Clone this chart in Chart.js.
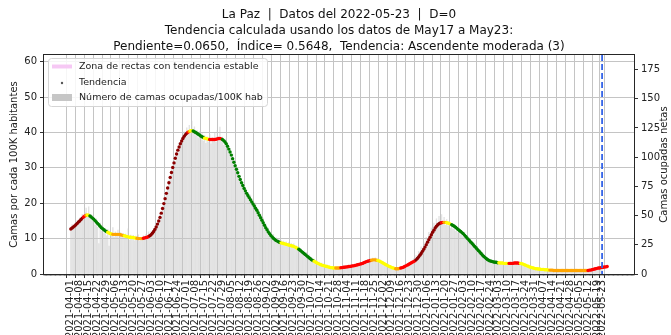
<!DOCTYPE html>
<html>
<head>
<meta charset="utf-8">
<script src="https://cdn.jsdelivr.net/npm/chart.js@4.4.0/dist/chart.umd.min.js"></script>
<style>
  html, body { margin: 0; padding: 0; background: #fff; overflow: hidden; }
</style>
</head>
<body>
<canvas id="camasChart" width="671" height="335"></canvas>
<script>
const FONT = 'DejaVu Sans';

const startDate = '2021-04-01';
const reportDate = '2022-05-23';

const titleLines = [
  'La Paz  |  Datos del 2022-05-23  |  D=0',
  'Tendencia calculada usando los datos de May17 a May23:',
  'Pendiente=0.0650,  Índice= 0.5648,  Tendencia: Ascendente moderada (3)',
];

const tickDates = [
  '2021-04-01', '2021-04-08', '2021-04-15', '2021-04-22', '2021-04-29', '2021-05-06', '2021-05-13',
  '2021-05-20', '2021-05-27', '2021-06-03', '2021-06-10', '2021-06-17', '2021-06-24', '2021-07-01',
  '2021-07-08', '2021-07-15', '2021-07-22', '2021-07-29', '2021-08-05', '2021-08-12', '2021-08-19',
  '2021-08-26', '2021-09-02', '2021-09-09', '2021-09-16', '2021-09-23', '2021-09-30', '2021-10-07',
  '2021-10-14', '2021-10-21', '2021-10-28', '2021-11-04', '2021-11-11', '2021-11-18', '2021-11-25',
  '2021-12-02', '2021-12-09', '2021-12-16', '2021-12-23', '2021-12-30', '2022-01-06', '2022-01-13',
  '2022-01-20', '2022-01-27', '2022-02-03', '2022-02-10', '2022-02-17', '2022-02-24', '2022-03-03',
  '2022-03-10', '2022-03-17', '2022-03-24', '2022-03-31', '2022-04-07', '2022-04-14', '2022-04-21',
  '2022-04-28', '2022-05-05', '2022-05-12', '2022-05-19', '2022-05-23',
];

const yLeftTicks = [0, 10, 20, 30, 40, 50, 60];
const yRightTicks = [0, 25, 50, 75, 100, 125, 150, 175];

// daily trend (camas / 100K hab), one row per week starting 2021-04-01
const trendValues = [
  12.7, 13.0, 13.3, 13.6, 13.9, 14.3, 14.7,
  15.0, 15.4, 15.8, 16.1, 16.4, 16.6, 16.7,
  16.6, 16.4, 16.1, 15.8, 15.5, 15.1, 14.7,
  14.3, 13.9, 13.5, 13.1, 12.8, 12.5, 12.2,
  12.0, 11.8, 11.6, 11.4, 11.3, 11.2, 11.2,
  11.2, 11.2, 11.2, 11.2, 11.1, 11.0, 10.9,
  10.8, 10.7, 10.6, 10.5, 10.4, 10.4, 10.3,
  10.3, 10.2, 10.1, 10.1, 10.0, 10.0, 10.0,
  10.0, 10.1, 10.2, 10.3, 10.4, 10.6, 10.8,
  11.1, 11.5, 12.0, 12.6, 13.3, 14.1, 15.0,
  16.0, 17.2, 18.5, 19.9, 21.3, 22.8, 24.3,
  25.8, 27.3, 28.7, 30.1, 31.4, 32.7, 33.9,
  35.0, 35.9, 36.8, 37.6, 38.3, 38.9, 39.4,
  39.8, 40.1, 40.3, 40.5, 40.5, 40.4, 40.2,
  40.0, 39.8, 39.5, 39.3, 39.0, 38.8, 38.6,
  38.4, 38.3, 38.2, 38.1, 38.0, 38.0, 38.0,
  38.0, 38.0, 38.1, 38.2, 38.3, 38.3, 38.2,
  38.0, 37.7, 37.3, 36.8, 36.1, 35.3, 34.5,
  33.6, 32.6, 31.6, 30.6, 29.6, 28.6, 27.6,
  26.7, 25.8, 25.0, 24.2, 23.5, 22.8, 22.2,
  21.6, 21.0, 20.4, 19.8, 19.2, 18.6, 18.0,
  17.3, 16.6, 15.9, 15.2, 14.5, 13.8, 13.1,
  12.5, 11.9, 11.4, 10.9, 10.5, 10.1, 9.8,
  9.5, 9.3, 9.1, 8.9, 8.8, 8.7, 8.6,
  8.5, 8.4, 8.3, 8.2, 8.1, 8.0, 7.9,
  7.8, 7.6, 7.4, 7.2, 7.0, 6.7, 6.4,
  6.1, 5.8, 5.5, 5.2, 4.9, 4.6, 4.3,
  4.0, 3.8, 3.6, 3.4, 3.2, 3.0, 2.8,
  2.7, 2.5, 2.4, 2.3, 2.2, 2.1, 2.0,
  1.9, 1.8, 1.8, 1.7, 1.7, 1.7, 1.7,
  1.7, 1.7, 1.8, 1.8, 1.9, 1.9, 2.0,
  2.0, 2.1, 2.1, 2.2, 2.3, 2.3, 2.4,
  2.5, 2.6, 2.7, 2.8, 2.9, 3.0, 3.2,
  3.3, 3.5, 3.6, 3.7, 3.8, 3.9, 4.0,
  4.0, 4.0, 3.9, 3.8, 3.7, 3.5, 3.3,
  3.1, 2.9, 2.7, 2.5, 2.3, 2.1, 2.0,
  1.8, 1.7, 1.6, 1.5, 1.5, 1.5, 1.6,
  1.7, 1.8, 1.9, 2.1, 2.3, 2.5, 2.7,
  2.9, 3.1, 3.3, 3.5, 3.7, 4.0, 4.4,
  4.8, 5.3, 5.8, 6.4, 7.0, 7.6, 8.3,
  9.0, 9.7, 10.4, 11.1, 11.8, 12.4, 13.0,
  13.5, 13.9, 14.2, 14.4, 14.5, 14.6, 14.6,
  14.6, 14.5, 14.4, 14.3, 14.1, 13.9, 13.7,
  13.5, 13.2, 12.9, 12.6, 12.3, 12.0, 11.7,
  11.4, 11.0, 10.6, 10.2, 9.8, 9.4, 9.0,
  8.6, 8.2, 7.8, 7.4, 7.0, 6.6, 6.2,
  5.8, 5.4, 5.0, 4.7, 4.4, 4.1, 3.9,
  3.7, 3.6, 3.5, 3.4, 3.3, 3.3, 3.2,
  3.2, 3.1, 3.1, 3.1, 3.0, 3.0, 3.0,
  3.0, 3.0, 3.0, 3.0, 3.0, 3.1, 3.1,
  3.1, 3.1, 3.0, 3.0, 2.9, 2.8, 2.6,
  2.5, 2.3, 2.2, 2.0, 1.9, 1.8, 1.7,
  1.6, 1.5, 1.5, 1.4, 1.4, 1.3, 1.3,
  1.3, 1.2, 1.2, 1.2, 1.1, 1.1, 1.1,
  1.1, 1.0, 1.0, 1.0, 1.0, 1.0, 1.0,
  1.0, 1.0, 1.0, 1.0, 1.0, 1.0, 1.0,
  1.0, 1.0, 1.0, 1.0, 1.0, 1.0, 1.0,
  1.0, 1.0, 1.0, 1.0, 1.0, 1.0, 1.0,
  1.0, 1.1, 1.1, 1.2, 1.3, 1.4, 1.5,
  1.6, 1.7, 1.7, 1.8, 1.9, 1.9, 2.0,
  2.0, 2.1,
];

// trend class per run of days: D darkred, R red, O orange, Y yellow, G green
const trendPhases = [
  ['D', 10], ['R', 2], ['O', 1], ['Y', 2], ['G', 14], ['Y', 4], ['O', 9], ['Y', 10], ['O', 5], ['R', 5],
  ['D', 30], ['R', 1], ['O', 1], ['Y', 2], ['G', 9], ['Y', 4], ['R', 10], ['G', 46], ['Y', 14], ['G', 12],
  ['Y', 17], ['O', 4], ['R', 24], ['O', 5], ['Y', 14], ['O', 4], ['R', 12], ['D', 20], ['R', 2], ['O', 2],
  ['Y', 4], ['G', 37], ['Y', 8], ['R', 9], ['Y', 23], ['O', 30], ['R', 16],
];

const phaseColors = { D: '#8b0000', R: '#ff0000', O: '#ffa500', Y: '#ffff00', G: '#008000' };

// daily occupied beds per 100K inhabitants
const bedValues = [
  12.1, 14.0, 13.2, 12.8, 15.1, 13.6, 14.9,
  15.8, 14.6, 16.9, 15.2, 17.4, 18.6, 16.1,
  19.0, 15.7, 16.8, 14.9, 15.9, 13.8, 15.6,
  13.2, 8.6, 14.4, 12.1, 13.6, 11.4, 12.9,
  10.8, 12.6, 7.9, 12.3, 10.7, 13.1, 10.4,
  11.9, 10.6, 12.4, 9.8, 11.7, 10.3, 11.5,
  9.9, 11.3, 10.1, 12.8, 9.6, 11.0, 10.0,
  10.9, 9.4, 10.7, 9.5, 11.1, 9.3, 10.4,
  9.7, 10.8, 9.9, 11.2, 10.0, 11.9, 10.6,
  12.0, 11.1, 12.9, 12.2, 14.1, 13.5, 15.3,
  16.8, 16.2, 18.9, 19.4, 21.0, 22.6, 23.8,
  26.4, 26.9, 29.5, 29.2, 32.1, 31.8, 34.6,
  34.2, 37.1, 36.3, 38.5, 37.9, 40.2, 39.0,
  41.3, 39.6, 42.0, 40.1, 43.2, 39.8, 41.6,
  39.1, 40.6, 38.4, 40.3, 37.8, 39.7, 37.6,
  39.2, 36.9, 38.8, 37.3, 39.5, 36.8, 38.6,
  37.4, 39.9, 37.2, 40.6, 38.0, 41.5, 37.5,
  38.7, 36.4, 38.1, 35.6, 36.9, 34.3, 35.4,
  32.8, 33.9, 30.7, 31.9, 29.2, 30.1, 27.4,
  27.9, 25.1, 25.9, 23.6, 24.4, 22.0, 23.1,
  20.8, 22.3, 19.5, 21.2, 18.7, 20.1, 17.3,
  18.2, 15.9, 17.0, 14.6, 15.8, 13.4, 14.2,
  11.8, 13.0, 10.9, 11.9, 10.1, 11.2, 9.2,
  10.4, 8.7, 9.8, 8.2, 9.5, 8.1, 9.3,
  7.9, 9.1, 7.8, 8.9, 7.6, 8.7, 7.4,
  8.5, 7.1, 8.0, 6.8, 7.7, 6.3, 7.0,
  5.7, 6.6, 5.2, 6.1, 4.6, 5.5, 4.0,
  4.6, 3.5, 4.2, 3.1, 3.9, 2.7, 3.4,
  2.4, 3.1, 2.1, 2.8, 1.9, 2.6, 1.7,
  2.3, 1.5, 2.1, 1.4, 2.0, 1.4, 1.9,
  1.5, 2.0, 1.6, 2.2, 1.6, 2.3, 1.8,
  2.4, 1.8, 2.5, 1.9, 2.7, 2.0, 2.8,
  2.2, 3.0, 2.4, 3.2, 2.6, 3.4, 2.9,
  3.7, 3.1, 4.0, 3.3, 4.2, 3.6, 4.5,
  3.7, 4.6, 3.6, 4.3, 3.4, 4.0, 3.0,
  3.6, 2.6, 3.1, 2.2, 2.8, 1.9, 2.4,
  1.6, 2.1, 1.4, 1.9, 1.3, 1.8, 1.4,
  2.0, 1.6, 2.3, 1.8, 2.7, 2.2, 3.1,
  2.6, 3.6, 3.1, 4.3, 3.7, 5.2, 4.6,
  6.4, 5.6, 7.7, 6.9, 9.0, 8.2, 10.4,
  9.1, 11.8, 10.5, 13.0, 11.9, 14.4, 12.8,
  15.6, 13.5, 16.3, 13.9, 16.8, 14.2, 16.0,
  13.8, 15.4, 13.6, 14.9, 12.9, 14.3, 12.6,
  13.8, 12.1, 13.4, 11.5, 12.8, 11.0, 12.2,
  10.5, 11.6, 9.8, 10.9, 9.1, 10.2, 8.4,
  9.3, 7.6, 8.5, 6.9, 7.8, 6.1, 6.9,
  5.2, 6.1, 4.6, 5.3, 4.0, 4.6, 3.6,
  4.1, 3.3, 3.9, 3.1, 3.7, 3.0, 3.5,
  2.9, 3.4, 2.8, 3.4, 2.7, 3.3, 2.8,
  3.3, 2.7, 3.4, 2.8, 3.5, 2.9, 3.4,
  2.8, 3.3, 2.7, 3.1, 2.5, 2.9, 2.3,
  2.7, 2.1, 2.4, 1.8, 2.2, 1.6, 2.0,
  1.4, 1.8, 1.3, 1.6, 1.2, 1.5, 1.1,
  1.5, 1.0, 1.4, 1.0, 1.3, 0.9, 1.2,
  0.9, 1.2, 0.8, 1.1, 0.9, 1.2, 0.8,
  1.1, 0.8, 1.2, 0.9, 1.1, 0.8, 1.2,
  0.9, 1.1, 0.8, 1.2, 0.9, 1.1, 0.8,
  1.2, 0.9, 1.1, 0.8, 1.2, 0.9, 1.1,
  0.9, 1.2, 1.0, 1.4, 1.1, 1.6, 1.3,
  1.8, 1.5, 2.0, 1.7, 2.1,
];

// La Paz: beds per 100K hab -> net beds
const netBedsFactor = 3.028;

const DAY_MS = 86400000;
const dayIndex = (d) => Math.round((Date.parse(d) - Date.parse(startDate)) / DAY_MS);
const dayLabel = (i) => new Date(Date.parse(startDate) + i * DAY_MS).toISOString().slice(0, 10);

const tickDays = tickDates.map(dayIndex);
const trendColors = trendPhases.flatMap(([c, n]) => Array(n).fill(phaseColors[c]));
const trendPoints = trendValues.map((v, i) => ({ x: i, y: v }));
const bedPoints = bedValues.map((v, i) => ({ x: i, y: v }));

// matplotlib-like 5% margin around the plotted days
const lastDay = trendValues.length - 1;
const xMargin = lastDay * 0.05;
const yMax = 61.9;

const drawExtras = {
  id: 'drawExtras',
  afterDraw(chart) {
    const { ctx, chartArea: a, scales } = chart;
    ctx.save();

    // small daily ticks under the axis
    ctx.strokeStyle = '#444';
    ctx.lineWidth = 0.6;
    ctx.beginPath();
    for (let d = Math.ceil(scales.x.min); d <= scales.x.max; d++) {
      const x = scales.x.getPixelForValue(d);
      ctx.moveTo(x, a.bottom);
      ctx.lineTo(x, a.bottom + 2);
    }
    ctx.stroke();

    // report day marker
    const xr = scales.x.getPixelForValue(dayIndex(reportDate));
    ctx.strokeStyle = '#3565e8';
    ctx.lineWidth = 1.8;
    ctx.setLineDash([6, 3]);
    ctx.beginPath();
    ctx.moveTo(xr, a.top);
    ctx.lineTo(xr, a.bottom);
    ctx.stroke();
    ctx.setLineDash([]);

    // frame
    ctx.strokeStyle = '#262626';
    ctx.lineWidth = 1;
    ctx.strokeRect(Math.round(a.left) - 0.5, Math.round(a.top) - 0.5,
      Math.round(a.right - a.left) + 1, Math.round(a.bottom - a.top) + 1);

    // title
    ctx.fillStyle = '#111';
    ctx.font = `12px "${FONT}"`;
    ctx.textAlign = 'center';
    ctx.textBaseline = 'middle';
    const cx = (a.left + a.right) / 2;
    titleLines.forEach((t, i) => ctx.fillText(t, cx, 15 + i * 15.7));

    // axis titles
    ctx.font = `10px "${FONT}"`;
    ctx.fillStyle = '#222';
    const cy = (a.top + a.bottom) / 2;
    [[14, 'Camas por cada 100K habitantes'], [664, 'Camas ocupadas netas']].forEach(([x, t]) => {
      ctx.save();
      ctx.translate(x, cy);
      ctx.rotate(-Math.PI / 2);
      ctx.fillText(t, 0, 0);
      ctx.restore();
    });

    // legend box
    const lx = a.left + 4, ly = a.top + 3, lw = 219, lh = 48;
    ctx.fillStyle = 'rgba(255,255,255,0.85)';
    ctx.strokeStyle = '#d5d5d5';
    ctx.beginPath();
    ctx.roundRect(lx + 0.5, ly + 0.5, lw, lh, 3);
    ctx.fill();
    ctx.stroke();
    ctx.textAlign = 'left';
    ctx.font = `9.5px "${FONT}"`;
    chart.data.datasets.forEach((ds, i) => {
      const y = ly + 8.5 + i * 15.5;
      if (ds.legendKind === 'line') {
        ctx.strokeStyle = ds.borderColor;
        ctx.lineWidth = 4;
        ctx.beginPath();
        ctx.moveTo(lx + 4, y);
        ctx.lineTo(lx + 24, y);
        ctx.stroke();
      } else if (ds.legendKind === 'dot') {
        ctx.fillStyle = '#555';
        ctx.beginPath();
        ctx.arc(lx + 14, y + 1, 1.2, 0, Math.PI * 2);
        ctx.fill();
      } else {
        ctx.fillStyle = '#c6c6c6';
        ctx.fillRect(lx + 4, y - 3.5, 20, 7);
      }
      ctx.fillStyle = '#222';
      ctx.fillText(ds.label, lx + 31, y + 0.5);
    });

    ctx.restore();
  },
};

const tickFont = { family: FONT, size: 10 };

new Chart(document.getElementById('camasChart'), {
  type: 'bar',
  data: {
    datasets: [
      {
        type: 'line',
        label: 'Zona de rectas con tendencia estable',
        data: [],
        borderColor: '#f6c8f4',
        legendKind: 'line',
      },
      {
        type: 'line',
        label: 'Tendencia',
        data: trendPoints,
        showLine: false,
        pointRadius: 1.7,
        pointBorderWidth: 0,
        pointBackgroundColor: trendColors,
        legendKind: 'dot',
        order: 1,
      },
      {
        type: 'bar',
        label: 'Número de camas ocupadas/100K hab',
        data: bedPoints,
        backgroundColor: 'rgba(200,200,200,0.5)',
        barThickness: 0.7,
        legendKind: 'box',
        order: 2,
      },
    ],
  },
  options: {
    responsive: false,
    devicePixelRatio: 1,
    animation: false,
    layout: { padding: { top: 55, left: 0, right: 0, bottom: 0 } },
    plugins: {
      legend: { display: false },
      title: { display: false },
      tooltip: { enabled: false },
    },
    scales: {
      x: {
        type: 'linear',
        offset: false,
        min: -xMargin,
        max: lastDay + xMargin,
        border: { display: false },
        grid: { color: '#c4c4c4', lineWidth: 1, tickLength: 4, tickColor: '#333' },
        ticks: {
          autoSkip: false,
          minRotation: 90,
          maxRotation: 90,
          padding: 2,
          color: '#222',
          font: tickFont,
          callback: (v) => dayLabel(v),
        },
        afterBuildTicks: (s) => { s.ticks = tickDays.map((v) => ({ value: v })); },
        afterFit: (s) => { s.height = 61; },
      },
      y: {
        position: 'left',
        min: 0,
        max: yMax,
        border: { display: false },
        grid: { color: '#c4c4c4', lineWidth: 1, tickLength: 4, tickColor: '#333' },
        ticks: { padding: 3, color: '#222', font: tickFont },
        afterBuildTicks: (s) => { s.ticks = yLeftTicks.map((v) => ({ value: v })); },
        afterFit: (s) => { s.width = 44; },
      },
      y2: {
        position: 'right',
        min: 0,
        max: yMax * netBedsFactor,
        border: { display: false },
        grid: { drawOnChartArea: false, tickLength: 4, tickColor: '#333' },
        ticks: { padding: 3, color: '#222', font: tickFont },
        afterBuildTicks: (s) => { s.ticks = yRightTicks.map((v) => ({ value: v })); },
        afterFit: (s) => { s.width = 37; },
      },
    },
  },
  plugins: [drawExtras],
});
</script>
</body>
</html>
